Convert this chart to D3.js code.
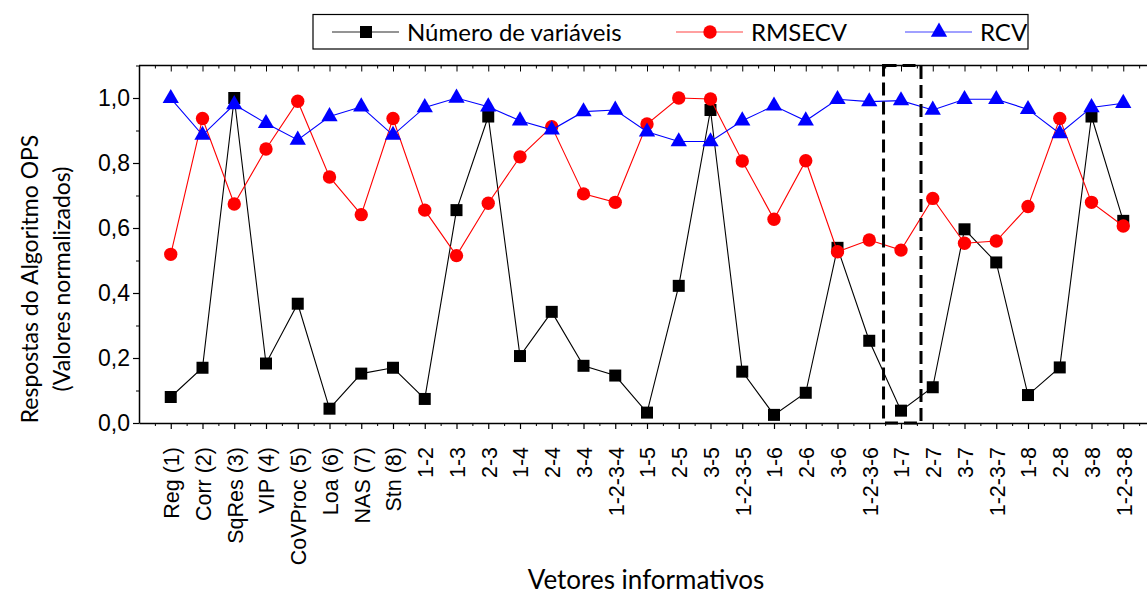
<!DOCTYPE html>
<html>
<head>
<meta charset="utf-8">
<script src="https://cdn.jsdelivr.net/npm/d3@7"></script>
<style>
  html, body { margin: 0; padding: 0; background: #fff; }
  svg { display: block; font-family: Lato, "Open Sans", sans-serif; }
</style>
</head>
<body>
<svg id="chart" width="1147" height="596"></svg>
<script>
// Informative vectors evaluated by the OPS algorithm
const categories = [
  "Reg (1)", "Corr (2)", "SqRes (3)", "VIP (4)", "CoVProc (5)", "Loa (6)", "NAS (7)", "Stn (8)",
  "1-2", "1-3", "2-3",
  "1-4", "2-4", "3-4", "1-2-3-4",
  "1-5", "2-5", "3-5", "1-2-3-5",
  "1-6", "2-6", "3-6", "1-2-3-6",
  "1-7", "2-7", "3-7", "1-2-3-7",
  "1-8", "2-8", "3-8", "1-2-3-8"
];

// Normalised responses
const numVars = [0.080, 0.170, 1.000, 0.183, 0.367, 0.044, 0.152, 0.170,
  0.074, 0.655, 0.943,
  0.206, 0.342, 0.176, 0.146,
  0.032, 0.422, 0.963, 0.158,
  0.025, 0.093, 0.539, 0.253,
  0.038, 0.110, 0.596, 0.494,
  0.086, 0.171, 0.943, 0.622];

const rmsecv = [0.519, 0.937, 0.674, 0.843, 0.990, 0.757, 0.641, 0.937,
  0.655, 0.515, 0.676,
  0.819, 0.912, 0.705, 0.679,
  0.920, 1.000, 0.997, 0.806,
  0.627, 0.807, 0.527, 0.563,
  0.532, 0.691, 0.553, 0.560,
  0.666, 0.937, 0.679, 0.606];

const rcv = [0.999, 0.886, 0.980, 0.922, 0.871, 0.943, 0.973, 0.886,
  0.971, 1.000, 0.973,
  0.930, 0.902, 0.958, 0.963,
  0.896, 0.866, 0.866, 0.930,
  0.976, 0.930, 0.996, 0.989,
  0.992, 0.963, 0.996, 0.996,
  0.965, 0.891, 0.971, 0.984];

const yTickValues = [0, 0.2, 0.4, 0.6, 0.8, 1.0];
const seriesNames = ["Número de variáveis", "RMSECV", "RCV"];
const highlighted = "1-7";

const series = [
  { name: seriesNames[0], values: numVars, color: "#000000", legendLine: "#707070", symbol: d3.symbolSquare, size: 144 },
  { name: seriesNames[1], values: rmsecv, color: "#ff0000", legendLine: "#ff8080", symbol: d3.symbolCircle, size: 140 },
  { name: seriesNames[2], values: rcv, color: "#0000ff", legendLine: "#8080ff", symbol: d3.symbolTriangle, size: 115 }
];

const svg = d3.select("#chart");
const plotLeft = 139, plotRight = 1155, plotTop = 65.5, plotBottom = 423;

const x = d3.scaleLinear().domain([-1, categories.length]).range([plotLeft, plotRight]);
const y = d3.scaleLinear().domain([0, 1.1]).range([plotBottom, plotTop]);

const locale = d3.formatLocale({ decimal: ",", thousands: ".", grouping: [3], currency: ["", ""] });
const fmt = locale.format(".1f");

// Frame top edge
svg.append("line").attr("x1", plotLeft).attr("x2", plotRight).attr("y1", plotTop).attr("y2", plotTop)
  .attr("stroke", "#000").attr("stroke-width", 1.5);

// Bottom axis: major ticks at categories, minor between them
const xAxis = d3.axisBottom(x)
  .tickValues(d3.range(categories.length))
  .tickFormat(i => categories[i])
  .tickSize(6).tickSizeOuter(0);
const gx = svg.append("g").attr("transform", `translate(0,${plotBottom})`).call(xAxis);
gx.select(".domain").attr("stroke-width", 1.5);
gx.selectAll(".tick line").attr("stroke-width", 1.2);
gx.selectAll(".tick text")
  .attr("font-size", 21.5)
  .attr("fill", "#000")
  .attr("transform", "rotate(-90)")
  .attr("text-anchor", "end")
  .attr("x", -24)
  .attr("y", 0)
  .attr("dy", "0.36em");

const xMinor = d3.axisBottom(x)
  .tickValues(d3.range(-0.5, categories.length, 1))
  .tickFormat("").tickSize(3).tickSizeOuter(0);
const gxm = svg.append("g").attr("transform", `translate(0,${plotBottom})`).call(xMinor);
gxm.select(".domain").remove();

// Top axis: inward ticks
const xTop = d3.axisTop(x).tickValues(d3.range(categories.length)).tickFormat("").tickSize(-6).tickSizeOuter(0);
const gt = svg.append("g").attr("transform", `translate(0,${plotTop})`).call(xTop);
gt.select(".domain").remove();
const xTopMinor = d3.axisTop(x).tickValues(d3.range(-0.5, categories.length, 1)).tickFormat("").tickSize(-3).tickSizeOuter(0);
const gtm = svg.append("g").attr("transform", `translate(0,${plotTop})`).call(xTopMinor);
gtm.select(".domain").remove();

// Left axis
const yAxis = d3.axisLeft(y).tickValues(yTickValues).tickFormat(fmt).tickSize(6).tickSizeOuter(0);
const gy = svg.append("g").attr("transform", `translate(${plotLeft},0)`).call(yAxis);
gy.select(".domain").attr("stroke-width", 1.5);
gy.selectAll(".tick line").attr("stroke-width", 1.2);
gy.selectAll(".tick text").attr("font-size", 23).attr("fill", "#000").attr("x", -9);

const yMinor = d3.axisLeft(y).tickValues(d3.range(0.1, 1.11, 0.2)).tickFormat("").tickSize(3).tickSizeOuter(0);
const gym = svg.append("g").attr("transform", `translate(${plotLeft},0)`).call(yMinor);
gym.select(".domain").remove();

// Series: line first, then markers
series.forEach(s => {
  const line = d3.line().x((d, i) => x(i)).y(d => y(d));
  svg.append("path")
    .attr("d", line(s.values))
    .attr("fill", "none")
    .attr("stroke", s.color)
    .attr("stroke-width", 1.1);
  const sym = d3.symbol().type(s.symbol).size(s.size);
  svg.append("g").selectAll("path")
    .data(s.values)
    .join("path")
    .attr("d", sym)
    .attr("transform", (d, i) => `translate(${x(i)},${y(d)})`)
    .attr("fill", s.color);
});

// Dashed box around the selected vector
const hi = categories.indexOf(highlighted);
svg.append("rect")
  .attr("x", x(hi - 0.55))
  .attr("y", y(1.1))
  .attr("width", x(hi + 0.63) - x(hi - 0.55))
  .attr("height", y(0) - y(1.1))
  .attr("fill", "none")
  .attr("stroke", "#000")
  .attr("stroke-width", 3)
  .attr("stroke-dasharray", "13,6");

// Axis titles
svg.append("text")
  .attr("transform", "translate(30,279) rotate(-90)")
  .attr("text-anchor", "middle")
  .attr("dy", "0.35em")
  .attr("font-size", 23)
  .text("Respostas do Algoritmo OPS");
svg.append("text")
  .attr("transform", "translate(62,279) rotate(-90)")
  .attr("text-anchor", "middle")
  .attr("dy", "0.35em")
  .attr("font-size", 23)
  .text("(Valores normalizados)");
svg.append("text")
  .attr("x", 646)
  .attr("y", 589)
  .attr("text-anchor", "middle")
  .attr("font-size", 26)
  .text("Vetores informativos");

// Legend
const legend = svg.append("g");
legend.append("rect")
  .attr("x", 313).attr("y", 14.5).attr("width", 715).attr("height", 34.5)
  .attr("fill", "#fff").attr("stroke", "#000").attr("stroke-width", 1.2);
const legendX = [332, 676, 905];
const ly = 32;
series.forEach((s, i) => {
  const g = legend.append("g").attr("transform", `translate(${legendX[i]},${ly})`);
  g.append("line").attr("x1", 0).attr("x2", 67).attr("y1", 0).attr("y2", 0)
    .attr("stroke", s.legendLine).attr("stroke-width", 1.5);
  g.append("path").attr("d", d3.symbol().type(s.symbol).size(s.size)())
    .attr("transform", "translate(34,0)").attr("fill", s.color);
  g.append("text").attr("x", 75).attr("y", 0).attr("dy", "0.36em")
    .attr("font-size", 24).text(s.name);
});
</script>
</body>
</html>
